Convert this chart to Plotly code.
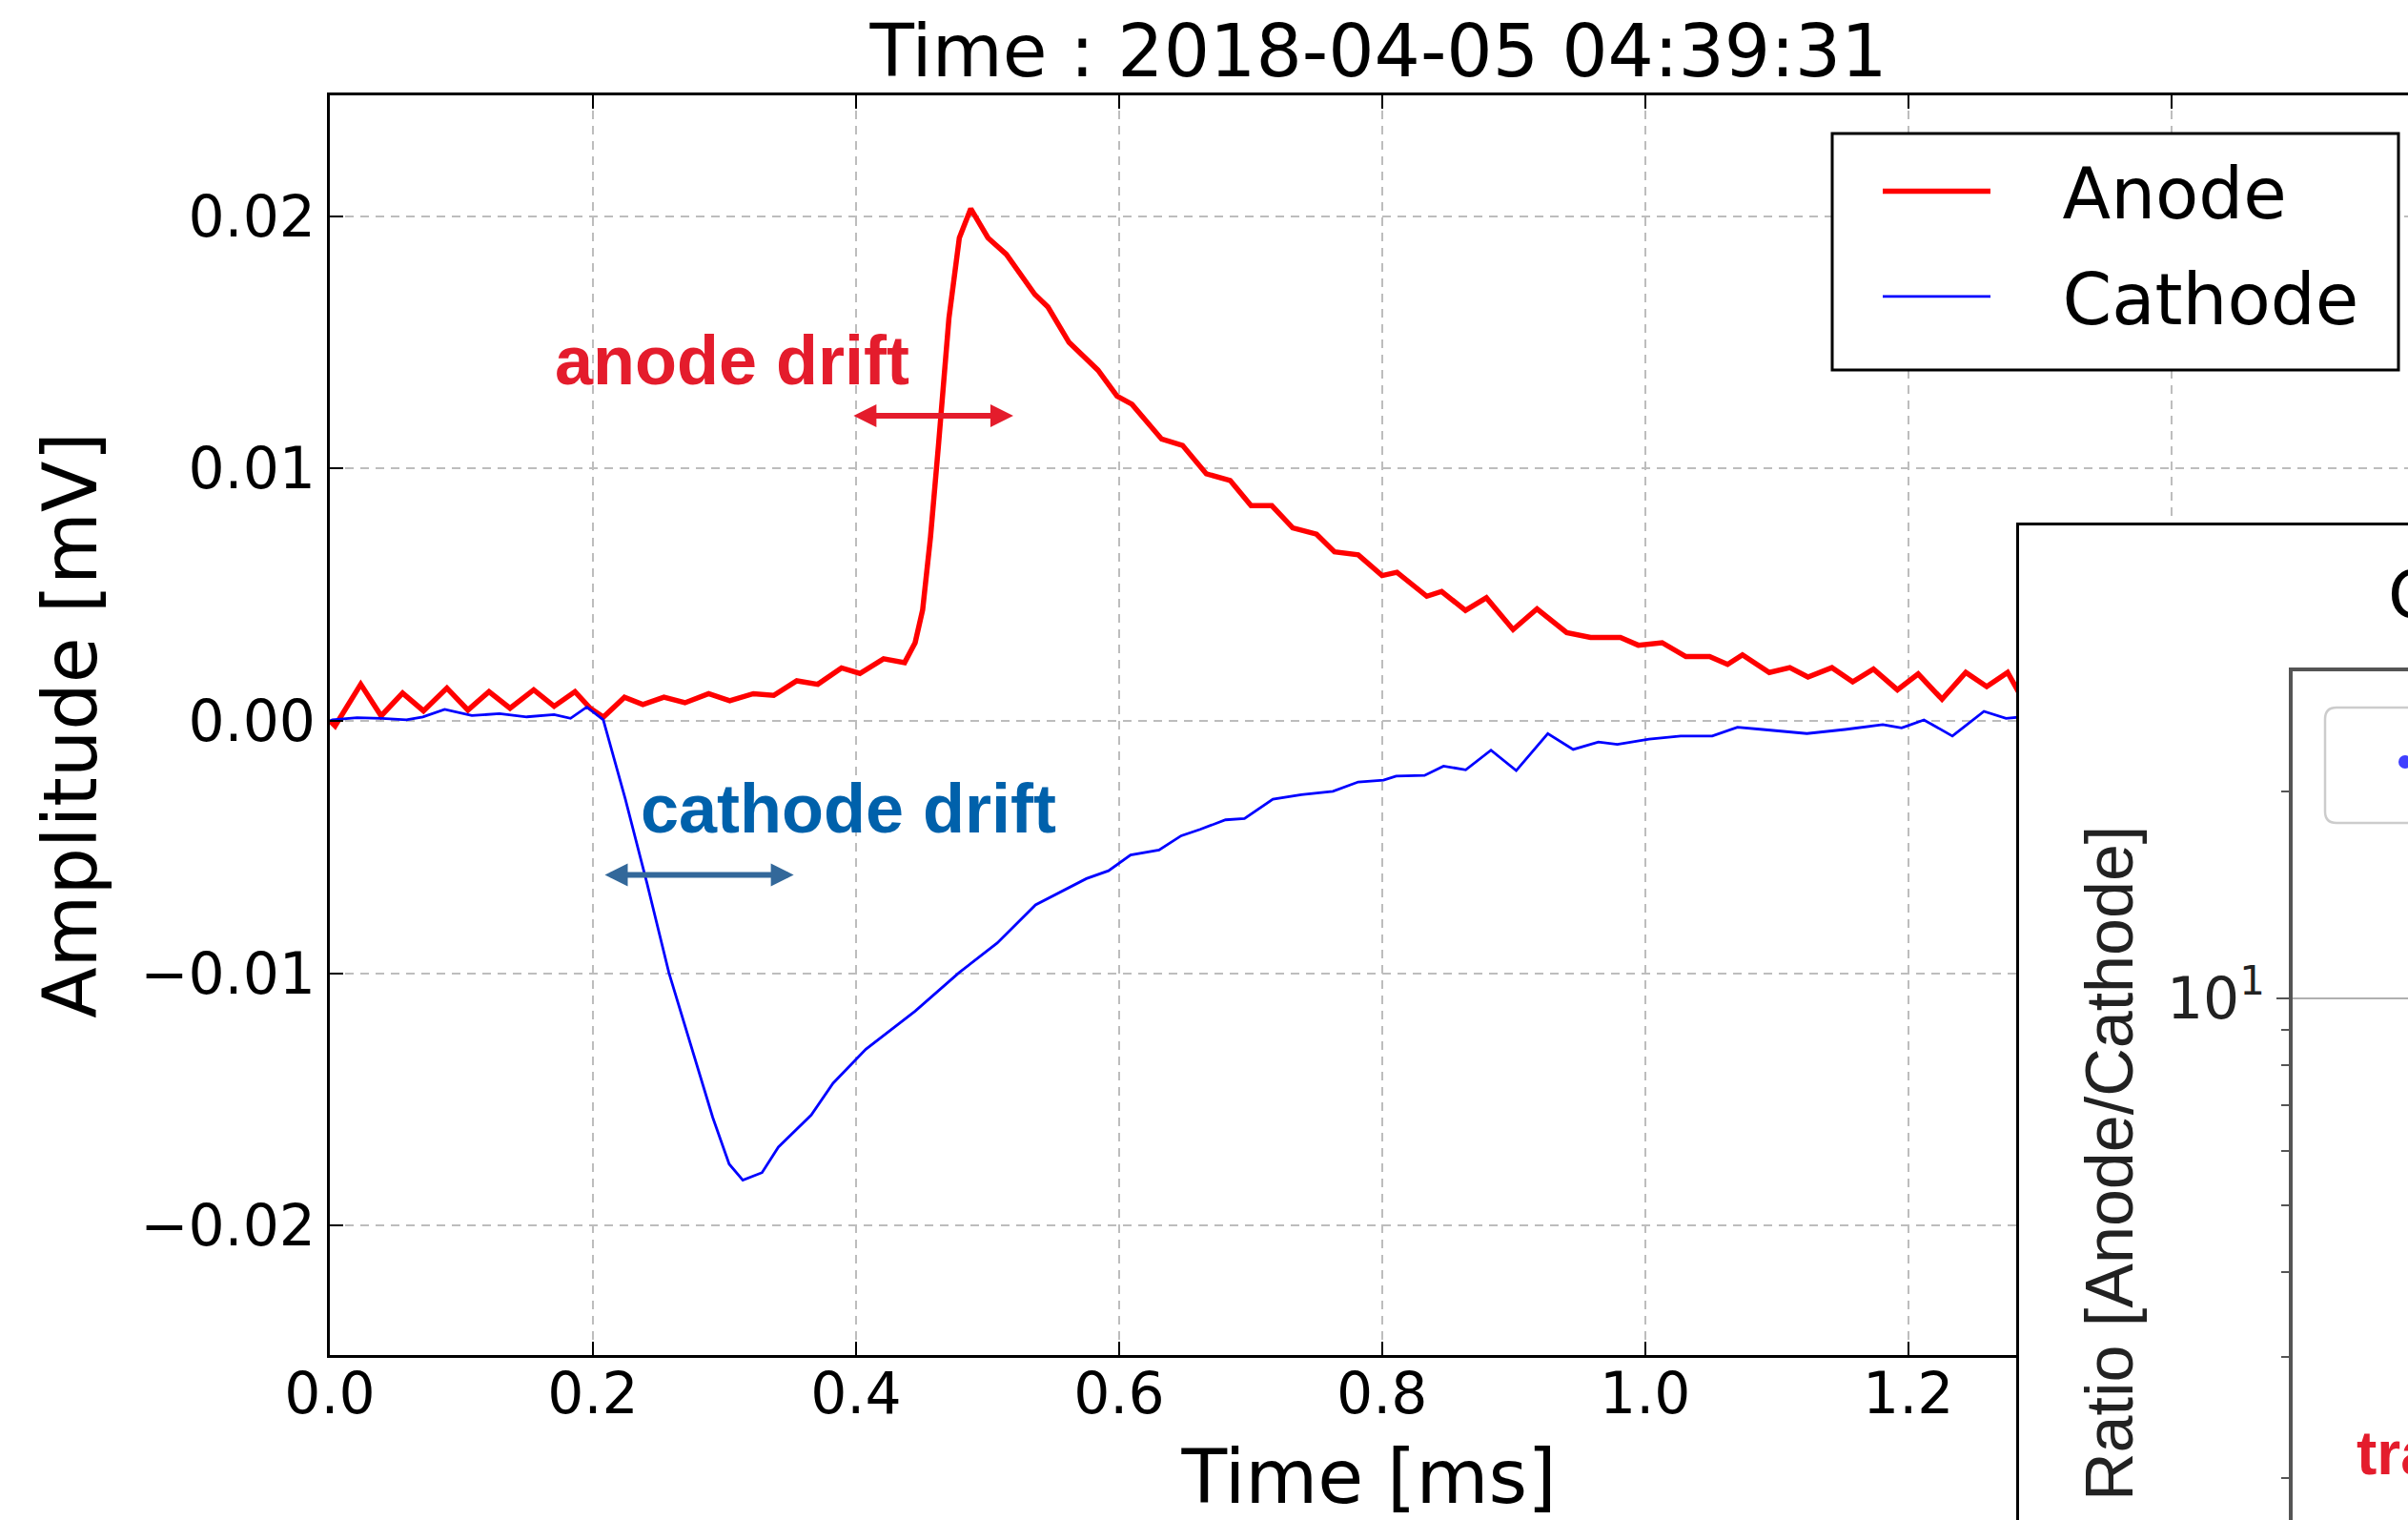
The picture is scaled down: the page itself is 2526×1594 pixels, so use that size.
import plotly.graph_objects as go

# ---- waveform samples (time in ms, amplitude in mV) ----
anode_t = [0.000, 0.004, 0.0235, 0.039, 0.0553, 0.0712, 0.089, 0.105, 0.121, 0.137,
           0.155, 0.1705, 0.1864, 0.198, 0.208, 0.224, 0.238, 0.254, 0.270, 0.288,
           0.304, 0.322, 0.3375, 0.355, 0.371, 0.389, 0.403, 0.421, 0.437, 0.445,
           0.4507, 0.4567, 0.4627, 0.4707, 0.4786, 0.4873, 0.5004, 0.5143, 0.536, 0.546,
           0.562, 0.584, 0.5985, 0.6098, 0.6324, 0.6483, 0.6664, 0.6845, 0.7004, 0.7162,
           0.7321, 0.7502, 0.7638, 0.7819, 0.800, 0.8113, 0.834, 0.8453, 0.8634, 0.8793,
           0.8996, 0.9178, 0.9404, 0.9585, 0.9812, 0.9948, 1.0129, 1.031, 1.049, 1.0627,
           1.074, 1.0944, 1.110, 1.1238, 1.142, 1.1578, 1.1736, 1.1918, 1.2076, 1.2257,
           1.2438, 1.2597, 1.2756, 1.2837, 1.292]
anode_mv = [0.0000, -0.0002, 0.00145, 0.0002, 0.0011, 0.0004, 0.0013, 0.00043, 0.00116, 0.0005,
            0.00123, 0.00058, 0.00116, 0.0005, 0.00015, 0.00094, 0.00065, 0.00094, 0.00072, 0.00108,
            0.0008, 0.00108, 0.00101, 0.00159, 0.00145, 0.0021, 0.00188, 0.00246, 0.00231, 0.0031,
            0.0044, 0.0073, 0.0109, 0.01596, 0.01914, 0.0203, 0.01914, 0.01849, 0.0169, 0.0164,
            0.0150, 0.0139, 0.01287, 0.01255, 0.01117, 0.01092, 0.00979, 0.00953, 0.00853, 0.00853,
            0.00765, 0.0074, 0.0067, 0.00658, 0.00576, 0.00589, 0.00494, 0.00513, 0.00438, 0.00488,
            0.00362, 0.00444, 0.0035, 0.00331, 0.00331, 0.0030, 0.0031, 0.00255, 0.00255, 0.00224,
            0.00262, 0.00192, 0.00211, 0.00174, 0.00211, 0.00155, 0.00205, 0.00123, 0.00186, 0.00086,
            0.00192, 0.00136, 0.00192, 0.00117, 0.0015]

cathode_t = [0.000, 0.002, 0.0207, 0.0395, 0.0582, 0.0707, 0.0873, 0.108, 0.129, 0.1497,
             0.1705, 0.183, 0.1954, 0.2079, 0.2246, 0.2412, 0.2578, 0.2745, 0.2911, 0.3036,
             0.314, 0.3286, 0.341, 0.366, 0.3826, 0.4075, 0.445, 0.4783, 0.5074, 0.5365,
             0.5752, 0.592, 0.6088, 0.6304, 0.6473, 0.6617, 0.681, 0.6954, 0.717, 0.7386,
             0.7626, 0.7819, 0.8011, 0.8107, 0.8323, 0.8467, 0.8636, 0.8828, 0.902, 0.926,
             0.9453, 0.9645, 0.9789, 1.003, 1.027, 1.051, 1.0702, 1.0894, 1.123, 1.1519,
             1.1807, 1.195, 1.212, 1.2336, 1.2576, 1.2744, 1.2888]
cathode_mv = [0.0000, 0.00004, 0.00013, 0.0001, 0.00004, 0.00016, 0.00046, 0.00021, 0.00029, 0.00016,
              0.00025, 0.0001, 0.00055, 0.00004, -0.00308, -0.00645, -0.00998, -0.01285, -0.01571, -0.01756,
              -0.0182, -0.0179, -0.01689, -0.01562, -0.01436, -0.01301, -0.0115, -0.00998, -0.0088, -0.00729,
              -0.00625, -0.00594, -0.00531, -0.00512, -0.00455, -0.0043, -0.00392, -0.00387, -0.0031, -0.00292,
              -0.00279, -0.00242, -0.00235, -0.00219, -0.00216, -0.00179, -0.00194, -0.00116, -0.00197, -0.0005,
              -0.00113, -0.00084, -0.00093, -0.00072, -0.0006, -0.0006, -0.00025, -0.00034, -0.0005, -0.00034,
              -0.00015, -0.00028, 0.00004, -0.0006, 0.00038, 0.0001, 0.00017]

series_names = ["Anode", "Cathode"]
title_text = "Time : 2018-04-05 04:39:31"

W, H = 2526, 1594
FONT = "DejaVu Sans"
BOLD = "Liberation Sans, Arial, sans-serif"


def px(x):
    return x / W


def py(y):
    return (H - y) / H


NB = "\u00a0\u00a0\u00a0"

fig = go.Figure()
fig.add_trace(go.Scatter(x=anode_t, y=anode_mv, mode="lines", name=NB + series_names[0],
                         legendgroup="a", line=dict(color="#ff0000", width=5.5)))
fig.add_trace(go.Scatter(x=cathode_t, y=cathode_mv, mode="lines", name=NB + series_names[1],
                         legendgroup="c", line=dict(color="#0000ff", width=2.8)))

axis_common = dict(showline=True, linecolor="black", linewidth=3, ticks="inside",
                   ticklen=14, tickwidth=2, tickcolor="black", automargin=False,
                   showgrid=True, gridcolor="#bdbdbd", gridwidth=2, griddash="9px,7px",
                   zeroline=False, tickfont=dict(family=FONT, size=60, color="black"))

frame_common = dict(showgrid=False, zeroline=False, showticklabels=False, ticks="",
                    automargin=False, range=[0, 1], fixedrange=True)

fig.update_layout(
    width=W, height=H,
    margin=dict(l=0, r=0, t=0, b=0, autoexpand=False),
    paper_bgcolor="white", plot_bgcolor="white",
    font=dict(family=FONT, color="black"),
    title=dict(text=title_text, x=px(1446), xanchor="center", y=py(53), yanchor="middle",
               font=dict(family=FONT, size=76, color="black")),
    xaxis=dict(domain=[px(346), 1], range=[0, 1.58], dtick=0.2, tick0=0, tickformat=".1f",
               mirror="ticks", ticklabelstandoff=-14,
               title=dict(text="Time [ms]", font=dict(size=78), standoff=34),
               **axis_common),
    yaxis=dict(domain=[py(1421), py(100)], range=[-0.02513, 0.02479], dtick=0.01, tickformat=".2f",
               title=dict(text="Amplitude [mV]", font=dict(size=78), standoff=20),
               **axis_common),
    # inset panel frame
    xaxis2=dict(domain=[px(2118), 1], anchor="y2", side="top", showline=True,
                linecolor="black", linewidth=3, **frame_common),
    yaxis2=dict(domain=[0, py(551)], anchor="x2", side="left", showline=True,
                linecolor="black", linewidth=3, **frame_common),
    # inset ratio axes
    xaxis3=dict(domain=[px(2405), 1], anchor="y3", side="top", showline=True,
                linecolor="#555555", linewidth=4, **frame_common),
    yaxis3=dict(domain=[0, py(704)], type="log", range=[0.2403, 1.4764], anchor="x3",
                side="left", showline=True, linecolor="#555555", linewidth=4, automargin=False,
                ticks="outside", ticklen=13, tickwidth=2, tickcolor="#555555",
                tickvals=[10], ticktext=["10<sup>1</sup>"],
                tickfont=dict(family=FONT, size=60, color="#222222"),
                showgrid=True, gridcolor="#b0b0b0", gridwidth=2, zeroline=False,
                minor=dict(tickvals=[2, 3, 4, 5, 6, 7, 8, 9, 20], ticks="outside", ticklen=8,
                           tickwidth=2, tickcolor="#555555", showgrid=False)),
    legend=dict(x=px(1970), y=py(146), xanchor="left", yanchor="top",
                bgcolor="rgba(0,0,0,0)", borderwidth=0, itemwidth=113, tracegroupgap=11,
                font=dict(family=FONT, size=74, color="black")),
    showlegend=True,
)

# empty traces so the inset axes are created
fig.add_trace(go.Scatter(x=[], y=[], xaxis="x2", yaxis="y2", showlegend=False))
fig.add_trace(go.Scatter(x=[], y=[], xaxis="x3", yaxis="y3", showlegend=False))

shapes = [
    # legend frame
    dict(type="rect", xref="paper", yref="paper", x0=px(1922), x1=px(2516), y0=py(388), y1=py(140),
         line=dict(color="black", width=3), fillcolor="white", layer="above"),
]
# inset legend frame (rounded)
L, T, B, R, r = 2439, 742, 863, 2700, 12
path = (f"M{px(L + r)},{py(T)} L{px(R)},{py(T)} L{px(R)},{py(B)} L{px(L + r)},{py(B)} "
        f"Q{px(L)},{py(B)} {px(L)},{py(B - r)} L{px(L)},{py(T + r)} Q{px(L)},{py(T)} {px(L + r)},{py(T)} Z")
shapes.append(dict(type="path", xref="paper", yref="paper", path=path,
                   line=dict(color="#cccccc", width=2.5), fillcolor="white", layer="above"))
shapes.append(dict(type="circle", xref="paper", yref="paper", x0=px(2516), x1=px(2530),
                   y0=py(806), y1=py(792), line=dict(width=0), fillcolor="#4040ff", layer="above"))
fig.update_layout(shapes=shapes)

red_txt = "#e41c2c"
blue_txt = "#0061ab"
blue_arrow = "#33689a"

annotations = [
    dict(x=0.3058, y=0.0143, xref="x", yref="y", text="<b>anode drift</b>", showarrow=False,
         font=dict(family=BOLD, size=72, color=red_txt), xanchor="center", yanchor="middle"),
    dict(x=0.3946, y=-0.00347, xref="x", yref="y", text="<b>cathode drift</b>", showarrow=False,
         font=dict(family=BOLD, size=72, color=blue_txt), xanchor="center", yanchor="middle"),
    dict(x=0.5196, y=0.01209, ax=0.3971, ay=0.01209, xref="x", yref="y", axref="x", ayref="y",
         text="", showarrow=True, arrowhead=2, startarrowhead=2, arrowside="end+start",
         arrowwidth=6, arrowsize=0.8, startarrowsize=0.8, arrowcolor=red_txt),
    dict(x=0.3527, y=-0.0061, ax=0.208, ay=-0.0061, xref="x", yref="y", axref="x", ayref="y",
         text="", showarrow=True, arrowhead=2, startarrowhead=2, arrowside="end+start",
         arrowwidth=6, arrowsize=0.8, startarrowsize=0.8, arrowcolor=blue_arrow),
    # inset texts
    dict(x=px(2503), y=py(624), xref="paper", yref="paper", text="Charge ratio", showarrow=False,
         xanchor="left", yanchor="middle", font=dict(family=FONT, size=70, color="black")),
    dict(x=px(2470), y=py(1524), xref="paper", yref="paper", text="<b>trapping</b>", showarrow=False,
         xanchor="left", yanchor="middle", font=dict(family=BOLD, size=64, color=red_txt)),
    dict(x=px(2213), y=py(1220), xref="paper", yref="paper", text="Ratio [Anode/Cathode]",
         showarrow=False, textangle=-90, xanchor="center", yanchor="middle",
         font=dict(family="Liberation Sans", size=70, color="#222222")),
]
fig.update_layout(annotations=annotations)

fig.write_html("out.html")
